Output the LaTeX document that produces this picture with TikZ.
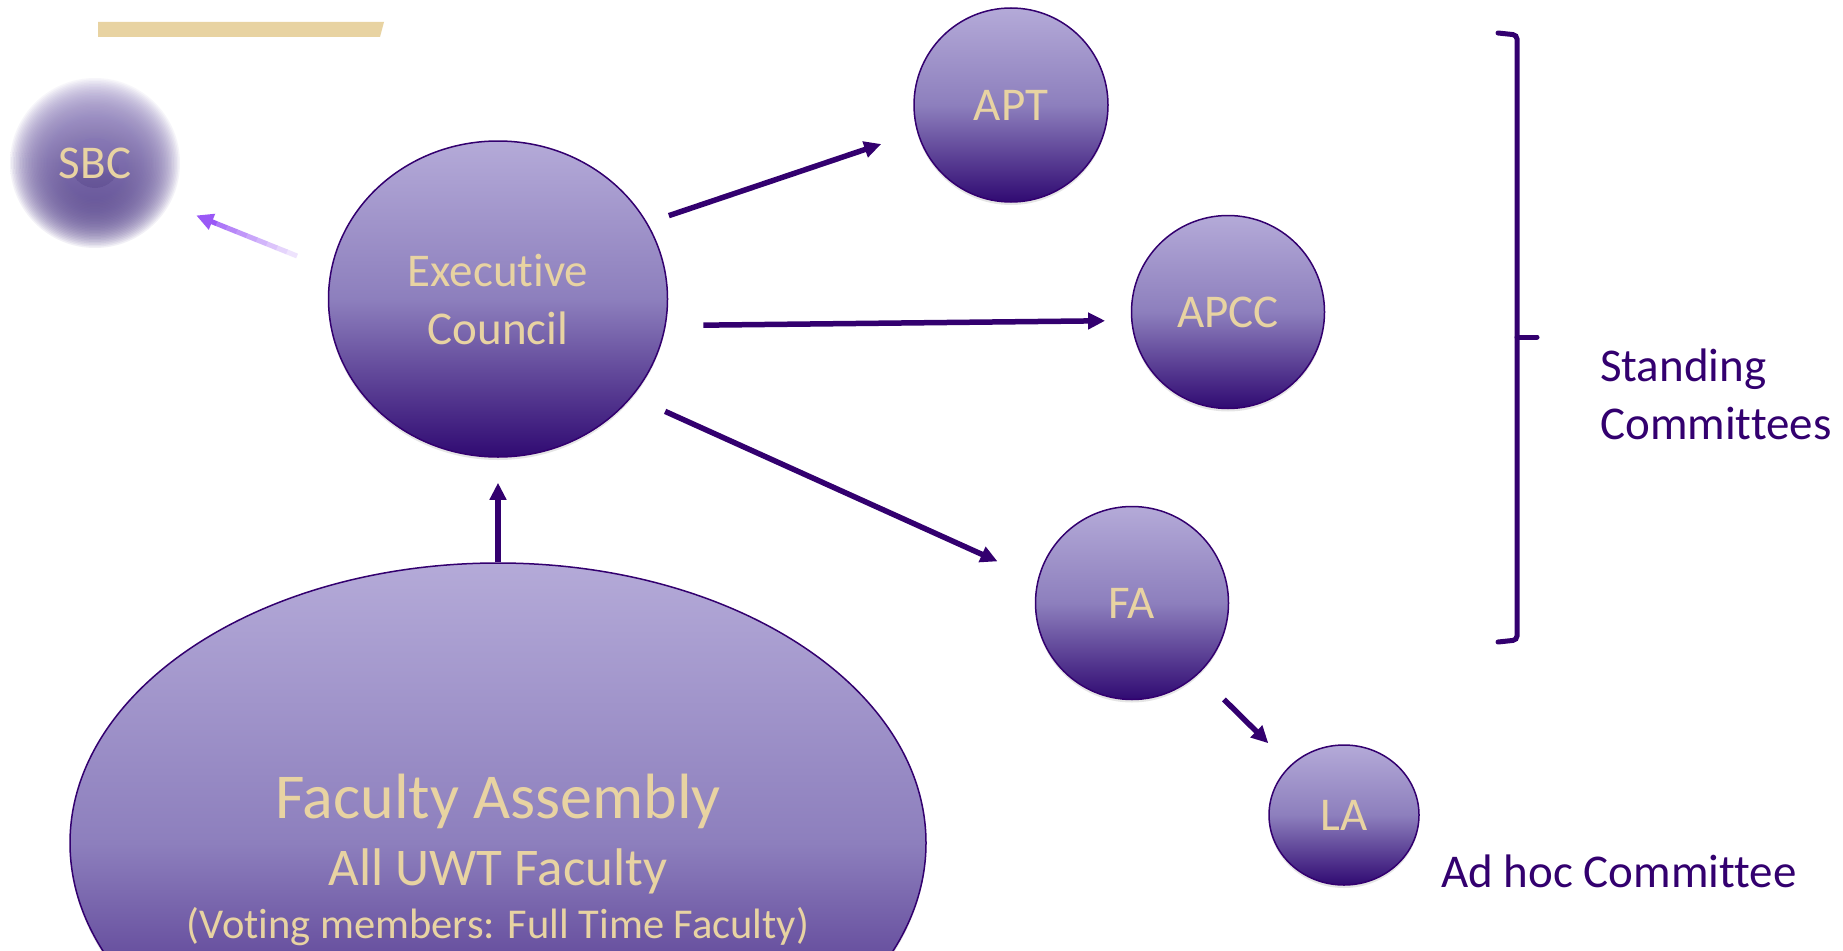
\documentclass[tikz,border=0pt]{standalone}
\usepackage{fontspec}
\setmainfont{Carlito}[Ligatures={NoCommon,NoRequired,NoContextual}]
\usetikzlibrary{shapes.geometric,arrows.meta,shadows,calc}

\definecolor{uwpurple}{HTML}{33006F}
\definecolor{uwgold}{HTML}{E8D3A2}
\definecolor{ballTop}{HTML}{B4AAD8}
\definecolor{ballMid}{HTML}{8D7FBD}
\definecolor{ballBot}{HTML}{300A72}
\definecolor{sbcTop}{HTML}{A295CA}
\definecolor{sbcBot}{HTML}{55428C}
\definecolor{tipViolet}{HTML}{9A58F6}
\definecolor{tailLilac}{HTML}{EEE3FD}

\begin{document}
\begin{tikzpicture}[x=1pt, y=-1pt,
  committee/.style={ellipse, draw=uwpurple, line width=1.5pt, top color=ballTop, bottom color=ballBot, middle color=ballMid,
    text=uwgold, font=\fontsize{47}{58}\selectfont, inner sep=0pt, align=center,
    drop shadow={shadow xshift=0pt, shadow yshift=-3pt, opacity=0.2}},
  arrowline/.style={draw=uwpurple, line width=5.5pt, -{Triangle[length=17pt,width=16pt]}},
  remark/.style={text=uwpurple, font=\fontsize{47}{58}\selectfont, align=left, inner sep=0pt}]
\useasboundingbox (0,0) rectangle (1843,950);
\clip (0,0) rectangle (1843,950);
\fill[white] (0,0) rectangle (1843,950);

% Vẽ thanh màu vàng phía trên
\fill[uwgold] (98,22) -- (384,22) -- (380,37) -- (98,37) -- cycle;

% Vẽ các ủy ban
\node[committee, minimum width=339pt, minimum height=316pt] (exec) at (498,299) {Executive\\Council};
\node[committee, minimum size=194pt] (apt) at (1011,105) {APT};
\node[committee, minimum size=193pt] (apcc) at (1228,312) {APCC};
\node[committee, minimum size=193pt] (fa) at (1132,603) {FA};
\node[committee, minimum width=150pt, minimum height=140pt] (la) at (1344,815) {LA};
\node[committee, minimum width=856pt, minimum height=560pt] (assembly) at (498,843) {};

% Chữ trong vòng Faculty Assembly
\node[text=uwgold, anchor=base, font=\fontsize{64}{70}\selectfont] (fatitle) at (498,818) {Faculty Assembly};
\node[text=uwgold, anchor=base, font=\fontsize{53}{60}\selectfont] (faall) at (498,885) {All UWT Faculty};
\node[text=uwgold, anchor=base, font=\fontsize{42.5}{48}\selectfont] (favote) at (498,938) {(Voting members: Full Time Faculty)};

% Vẽ vòng SBC mờ viền
\coordinate (sbcc) at (95,163);
\shade[top color=sbcTop, bottom color=sbcBot] (sbcc) circle (25pt);
\foreach \r in {25,26.5,...,85}
  \shade[top color=sbcTop, bottom color=sbcBot, opacity=0.08] (sbcc) circle (\r pt);
\node[circle, minimum size=124pt, inner sep=0pt, text=uwgold, font=\fontsize{47}{58}\selectfont] (sbc) at (sbcc) {SBC};

% Vẽ các mũi tên
\draw[arrowline, shorten <=22.6pt, shorten >=37.8pt] (exec.27) -- (apt.196);
\draw[arrowline, shorten <=37.5pt, shorten >=26pt] (exec.-9) -- (apcc.185);
\draw[arrowline, shorten <=36pt, shorten >=44pt] (exec.-36) -- (fa.166);
\draw[arrowline, shorten <=36pt, shorten >=31pt] (fa.-47) -- (la.137);
\draw[arrowline, shorten >=25pt] (assembly.north) -- (exec.south);

% Mũi tên nhạt về SBC
\path (exec.170) -- (sbc.-32) coordinate[pos=0.184] (sbcfrom) coordinate[pos=0.735] (sbcto);
\foreach \i in {0,...,7} {
  \pgfmathsetmacro\a{\i/10}
  \pgfmathsetmacro\b{(\i+1)/10+0.01}
  \pgfmathsetmacro\c{\i*11}
  \draw[line width=5pt, tipViolet!\c!tailLilac] ($(sbcfrom)!\a!(sbcto)$) -- ($(sbcfrom)!\b!(sbcto)$);
}
\draw[line width=5pt, tipViolet, -{Triangle[length=17pt,width=16pt]}] ($(sbcfrom)!0.8!(sbcto)$) -- (sbcto);

% Vẽ dấu ngoặc
\draw[uwpurple, line width=5pt, line cap=round, rounded corners=4pt] (1498,33) -- (1517,35) -- (1517,640) -- (1498,642);
\draw[uwpurple, line width=5pt, line cap=round] (1517,337) -- (1537,337);

% Ghi chú
\node[remark, anchor=west] (standing) at (1600,394) {Standing\\Committees};
\node[remark, anchor=base west] (adhoc) at (1441,887) {Ad hoc Committee};
\end{tikzpicture}
\end{document}
